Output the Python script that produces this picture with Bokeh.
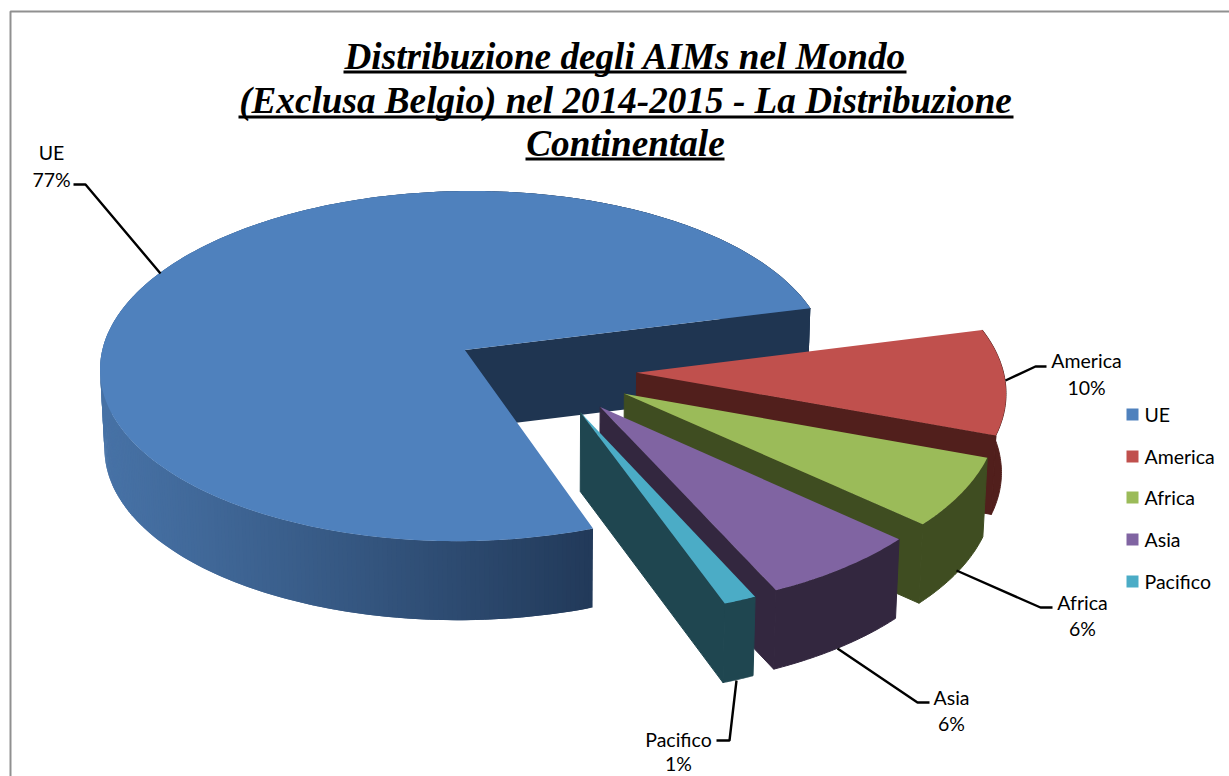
import numpy as np
from bokeh.plotting import figure
from bokeh.models import Range1d
from bokeh.embed import file_html
from bokeh.resources import INLINE
from bokeh.core.properties import value

# ---- data ----
categories = ["UE", "America", "Africa", "Asia", "Pacifico"]
percent_values = [76.6, 9.5, 6.2, 6.4, 1.3]
percent_labels = ["77%", "10%", "6%", "6%", "1%"]
title_lines = ["Distribuzione degli AIMs nel Mondo",
               "(Exclusa Belgio) nel 2014-2015 - La Distribuzione",
               "Continentale"]

# ---- style ----
top_colors = ["#4f81bd", "#c0504d", "#9bbb59", "#8064a2", "#4bacc6"]
cut_colors = ["#1f3551", "#511f1c", "#3f4d21", "#33273f", "#1f4650"]
W, H = 1229, 776
CX, CY, RX, RY, K, EXPLODE, DEPTH, SHRINK = 544.5, 370, 366.5, 177.4, 0.093, 0.25, 79, 0.99
FIRST_ANGLE = -70.0
LABEL_FONT = value("Lato")
TITLE_FONT = value("Liberation Serif")
LABEL_SIZE = "19.5px"

p = figure(width=W, height=H, output_backend="svg", toolbar_location=None,
           x_range=Range1d(0, W), y_range=Range1d(H, 0),
           min_border=0, outline_line_color=None, background_fill_color="white")
p.axis.visible = False
p.grid.visible = False


def project(X, Y, bottom=False):
    X, Y = np.asarray(X, float), np.asarray(Y, float)
    w = 1 + K * Y
    if bottom:
        return CX + RX * SHRINK * X / w, CY + DEPTH - RY * Y / w
    return CX + RX * X / w, CY - RY * Y / w


def mix(c1, c2, t):
    a = [int(c1[i:i + 2], 16) for i in (1, 3, 5)]
    b = [int(c2[i:i + 2], 16) for i in (1, 3, 5)]
    return "#%02x%02x%02x" % tuple(round(u + (v - u) * t) for u, v in zip(a, b))


total = sum(percent_values)
spans = [v / total * 360 for v in percent_values]
angle = FIRST_ANGLE
wedges = []
for s in spans:                      # clockwise from the first angle
    wedges.append((angle, angle - s))
    angle -= s

for i, (a0, a1) in enumerate(wedges):
    mid = np.radians((a0 + a1) / 2)
    ox, oy = EXPLODE * np.cos(mid), EXPLODE * np.sin(mid)
    th = np.radians(np.linspace(a0, a1, max(24, int(abs(a1 - a0) * 1.5))))
    rimX, rimY = ox + np.cos(th), oy + np.sin(th)
    tx, ty = project(rimX, rimY)
    ux, uy = project(rimX, rimY, True)
    ax, ay = project(ox, oy)
    bx, by = project(ox, oy, True)

    if i == 0:
        # outer wall with its shading, then the cut face at the clockwise end
        xs, ys, cols = [], [], []
        for j in range(len(th) - 1):
            k = min(j + 2, len(th) - 1)     # overlap the next quad so that no seams show
            xs.append([tx[j], tx[k], ux[k], ux[j]])
            ys.append([ty[j], ty[k], uy[k], uy[j]])
            t = np.clip((tx[j] - 100) / 490, 0, 1)
            cols.append(mix("#4772a6", "#223a5a", t ** 1.1))
        p.patches(xs, ys, fill_color=cols, line_color=None)
        p.patch([float(ax), float(tx[-1]), float(ux[-1]), float(bx)],
                [float(ay), float(ty[-1]), float(uy[-1]), float(by)],
                fill_color=cut_colors[i], line_color=None)
    else:
        # wall and cut face in one colour; a thin stroke closes the seam between them
        p.patch(list(tx) + list(ux[::-1]), list(ty) + list(uy[::-1]),
                fill_color=cut_colors[i], line_color=cut_colors[i], line_width=1)
        p.patch([float(ax), float(tx[-1]), float(ux[-1]), float(bx)],
                [float(ay), float(ty[-1]), float(uy[-1]), float(by)],
                fill_color=cut_colors[i], line_color=cut_colors[i], line_width=1)

    # top face
    p.patch([float(ax)] + list(tx), [float(ay)] + list(ty),
            fill_color=top_colors[i], line_color=None)

# border
p.line([1229, 10, 10], [11, 11, 776], line_color="#909090", line_width=2)

# title
for txt, yy in zip(title_lines, [56, 100, 143]):
    p.text([625], [yy], text=[txt], text_font=TITLE_FONT, text_font_style="bold italic",
           text_font_size="37.2px", text_align="center", text_baseline="middle", text_color="black")
for xa, xb, yy in [(343, 906, 71.5), (238, 1013, 116.5), (525, 724, 158.5)]:
    p.line([xa, xb], [yy, yy], line_color="black", line_width=3)

# leader lines
leaders_x = [[73, 85, 160], [1005, 1035, 1046], [956, 1040, 1052], [837, 917, 929], [736, 729, 716]]
leaders_y = [[184, 184, 273], [380, 366, 366], [570, 607, 607], [648, 702, 702], [680, 740, 740]]
p.multi_line(leaders_x, leaders_y, line_color="black", line_width=2.4)

# data labels
lab_x = [51, 1086, 1082, 951, 678]
lab_y1 = [152, 360, 602, 697, 739]
lab_y2 = [179, 387, 628, 723, 763]
p.text(lab_x, lab_y1, text=categories, text_font=LABEL_FONT, text_font_size=LABEL_SIZE,
       text_align="center", text_baseline="middle", text_color="black")
p.text(lab_x, lab_y2, text=percent_labels, text_font=LABEL_FONT, text_font_size=LABEL_SIZE,
       text_align="center", text_baseline="middle", text_color="black")

# legend
leg_y = [414, 456, 497, 539, 581]
p.rect([1132] * 5, leg_y, width=12, height=12, fill_color=top_colors, line_color=None)
p.text([1144] * 5, leg_y, text=categories, text_font=LABEL_FONT, text_font_size=LABEL_SIZE,
       text_align="left", text_baseline="middle", text_color="black")

open("out.html", "w").write(file_html(p, INLINE))
